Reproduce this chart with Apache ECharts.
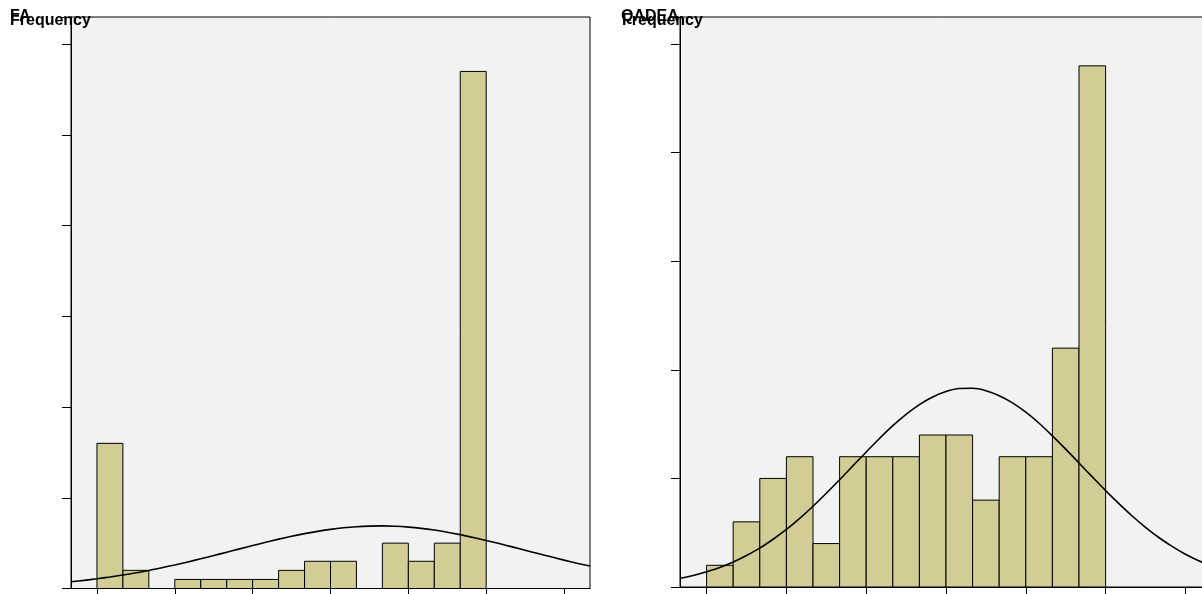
<!DOCTYPE html>
<html>
<head>
<meta charset="utf-8">
<script src="https://cdn.jsdelivr.net/npm/echarts@6/dist/echarts.min.js"></script>
<style>
  html, body { margin: 0; padding: 0; background: #ffffff; }
  #chart { width: 1202px; height: 594px; }
</style>
</head>
<body>
<div id="chart"></div>
<script>
// Histogram bins are one unit wide; bin i covers [i, i + 1].
const faCounts = [16, 2, 0, 1, 1, 1, 1, 2, 3, 3, 0, 5, 3, 5, 57];
const qadeaCounts = [1, 3, 5, 6, 2, 6, 6, 6, 7, 7, 4, 6, 6, 11, 24];

// Fitted normal curve heights (frequency scale), sampled every half bin from -1 to 19.
const curveX = [-1, -0.5, 0, 0.5, 1, 1.5, 2, 2.5, 3, 3.5, 4, 4.5, 5, 5.5, 6, 6.5, 7, 7.5, 8, 8.5, 9,
                9.5, 10, 10.5, 11, 11.5, 12, 12.5, 13, 13.5, 14, 14.5, 15, 15.5, 16, 16.5, 17, 17.5, 18, 18.5, 19];
const faCurve = [0.75, 0.90, 1.07, 1.27, 1.49, 1.73, 1.99, 2.29, 2.60, 2.93, 3.27, 3.63, 4.00, 4.37, 4.74, 5.09, 5.44, 5.76, 6.05, 6.30, 6.52,
                 6.69, 6.81, 6.88, 6.90, 6.86, 6.77, 6.63, 6.44, 6.21, 5.94, 5.63, 5.30, 4.95, 4.59, 4.22, 3.85, 3.49, 3.13, 2.79, 2.47];
const qadeaCurve = [0.40, 0.53, 0.70, 0.90, 1.15, 1.45, 1.79, 2.20, 2.65, 3.16, 3.72, 4.32, 4.94, 5.58, 6.22, 6.84, 7.43, 7.95, 8.40, 8.75, 9.00,
                    9.14, 9.15, 9.04, 8.81, 8.48, 8.05, 7.54, 6.96, 6.35, 5.71, 5.07, 4.44, 3.84, 3.27, 2.75, 2.28, 1.87, 1.51, 1.21, 0.95];

const xTicks = [0, 3, 6, 9, 12, 15, 18];
const faYMax = 63, faYStep = 10;
const qadeaYMax = 26.25, qadeaYStep = 5;

const titles = ['FA', 'QADEA'];
const yName = 'Frequency';

const BAR_FILL = '#d1cd94';
const PLOT_BG = '#f2f2f2';

function binData(counts) {
  return counts.map((c, i) => [i, i + 1, c]);
}

function renderBin(params, api) {
  const x0 = api.value(0), x1 = api.value(1), c = api.value(2);
  if (!c) return null;
  const p0 = api.coord([x0, c]);
  const p1 = api.coord([x1, 0]);
  return {
    type: 'rect',
    shape: { x: p0[0], y: p0[1], width: p1[0] - p0[0], height: p1[1] - p0[1] },
    style: { fill: BAR_FILL, stroke: '#000000', lineWidth: 1 }
  };
}

function xAxis(gridIndex) {
  return {
    type: 'value', gridIndex, min: -1, max: 19,
    axisLine: { show: true, onZero: false, lineStyle: { color: '#000', width: 1 } },
    axisTick: { show: true, inside: false, length: 9, customValues: xTicks, lineStyle: { color: '#000', width: 1 } },
    axisLabel: { show: false },
    splitLine: { show: false }
  };
}

function yAxis(gridIndex, max, step) {
  return {
    type: 'value', gridIndex, min: 0, max, interval: step,
    axisLine: { show: true, onZero: false, lineStyle: { color: '#000', width: 1 } },
    axisTick: { show: true, length: 9, lineStyle: { color: '#000', width: 1 } },
    axisLabel: { show: false },
    splitLine: { show: false }
  };
}

const chart = echarts.init(document.getElementById('chart'), null, { renderer: 'canvas' });

const titleFont = { fontFamily: 'Liberation Sans, Arial, sans-serif', fontWeight: 'bold', fontSize: 16, color: '#000' };

chart.setOption({
  animation: false,
  backgroundColor: '#ffffff',
  title: [
    { text: titles[0], left: 10, top: 9, padding: 0, textStyle: titleFont },
    { text: yName, left: 10, top: 13, padding: 0, textStyle: titleFont },
    { text: titles[1], left: 621, top: 9, padding: 0, textStyle: titleFont },
    { text: yName, left: 622, top: 13, padding: 0, textStyle: titleFont }
  ],
  grid: [
    { left: 71, top: 17, width: 519, height: 571.5, outerBoundsMode: 'none', show: true, backgroundColor: PLOT_BG, borderColor: '#000', borderWidth: 1 },
    { left: 680, top: 17, width: 532, height: 570, outerBoundsMode: 'none', show: true, backgroundColor: PLOT_BG, borderColor: '#000', borderWidth: 1 }
  ],
  xAxis: [xAxis(0), xAxis(1)],
  yAxis: [yAxis(0, faYMax, faYStep), yAxis(1, qadeaYMax, qadeaYStep)],
  series: [
    { type: 'custom', xAxisIndex: 0, yAxisIndex: 0, renderItem: renderBin, data: binData(faCounts), encode: { x: [0, 1], y: 2 } },
    { type: 'custom', xAxisIndex: 1, yAxisIndex: 1, renderItem: renderBin, data: binData(qadeaCounts), encode: { x: [0, 1], y: 2 } },
    { type: 'line', xAxisIndex: 0, yAxisIndex: 0, smooth: 0.3, symbol: 'none', z: 5,
      lineStyle: { color: '#000', width: 1.6 }, data: curveX.map((x, i) => [x, faCurve[i]]) },
    { type: 'line', xAxisIndex: 1, yAxisIndex: 1, smooth: 0.3, symbol: 'none', z: 5,
      lineStyle: { color: '#000', width: 1.6 }, data: curveX.map((x, i) => [x, qadeaCurve[i]]) }
  ]
});
</script>
</body>
</html>
